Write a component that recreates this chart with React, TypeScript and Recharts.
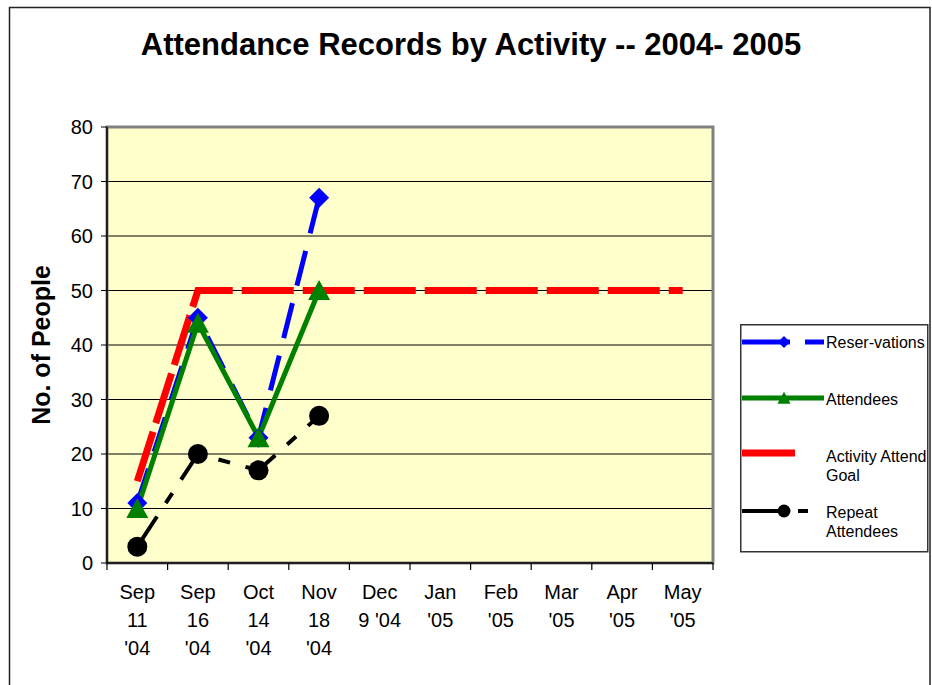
import {
  LineChart,
  Line,
  XAxis,
  YAxis,
  CartesianGrid,
  ReferenceArea,
  Legend,
} from "recharts";

// values
const categories = [
  "Sep\n11\n'04",
  "Sep\n16\n'04",
  "Oct\n14\n'04",
  "Nov\n18\n'04",
  "Dec\n9 '04",
  "Jan\n'05",
  "Feb\n'05",
  "Mar\n'05",
  "Apr\n'05",
  "May\n'05",
];
const reservations = [11, 45, 23, 67, null, null, null, null, null, null];
const attendees = [10, 44, 23, 50, null, null, null, null, null, null];
const attendGoal = [15, 50, 50, 50, 50, 50, 50, 50, 50, 50];
const repeatAttendees = [3, 20, 17, 27, null, null, null, null, null, null];

const yTicks = [0, 10, 20, 30, 40, 50, 60, 70, 80];
const labelTicks = [0, 1, 2, 3, 4, 5, 6, 7, 8, 9];
const boundaryTicks = [-0.5, 0.5, 1.5, 2.5, 3.5, 4.5, 5.5, 6.5, 7.5, 8.5, 9.5];

const data = categories.map((label, i) => ({
  idx: i,
  label,
  reservations: reservations[i],
  attendees: attendees[i],
  goal: attendGoal[i],
  repeat: repeatAttendees[i],
}));

type Marker = "diamond" | "triangle" | "circle" | "none";

const SERIES: {
  key: string;
  name: string[];
  color: string;
  width: number;
  dash?: string;
  legendDash?: string;
  marker: Marker;
}[] = [
  { key: "reservations", name: ["Reser-vations"], color: "#0000FF", width: 5, dash: "36 18", legendDash: "48 15", marker: "diamond" },
  { key: "attendees", name: ["Attendees"], color: "#008000", width: 5, marker: "triangle" },
  { key: "goal", name: ["Activity Attend", "Goal"], color: "#FF0000", width: 7, dash: "52 9", marker: "none" },
  { key: "repeat", name: ["Repeat", "Attendees"], color: "#000000", width: 4, dash: "36 16 12 16", legendDash: "46 10 10 10", marker: "circle" },
];

function markerShape(kind: Marker, cx: number, cy: number, color: string, s: number) {
  if (kind === "diamond")
    return <polygon points={`${cx},${cy - s} ${cx + s},${cy} ${cx},${cy + s} ${cx - s},${cy}`} fill={color} />;
  if (kind === "triangle")
    return (
      <polygon
        points={`${cx},${cy - s * 1.05} ${cx + s * 1.1},${cy + s * 0.95} ${cx - s * 1.1},${cy + s * 0.95}`}
        fill={color}
      />
    );
  if (kind === "circle") return <circle cx={cx} cy={cy} r={s} fill={color} />;
  return null;
}

const makeDot = (kind: Marker, color: string) => (props: any) => {
  const { cx, cy, index } = props;
  if (cx == null || cy == null || props.value == null) return <g key={`e-${index}`} />;
  return <g key={`m-${index}`}>{markerShape(kind, cx, cy, color, 10)}</g>;
};

const XTick = (props: any) => {
  const { x, y, payload } = props;
  const lines = (categories[payload.value] ?? "").split("\n");
  return (
    <text x={x} y={y} textAnchor="middle" fontSize={20} fill="#000">
      {lines.map((t, i) => (
        <tspan key={i} x={x} dy={i === 0 ? 35 : 28}>
          {t}
        </tspan>
      ))}
    </text>
  );
};

const EmptyTick = () => <g />;

const YLabel = (props: any) => {
  const vb = props.viewBox;
  const x = vb.x - 6;
  const y = vb.y + vb.height / 2;
  return (
    <text
      x={x}
      y={y}
      transform={`rotate(-90 ${x} ${y})`}
      textAnchor="middle"
      dominantBaseline="central"
      fontSize={25}
      fontWeight="bold"
      fill="#000"
    >
      No. of People
    </text>
  );
};

// legend rows: y of the sample line, x end of the sample, text baselines
const legendRows = [
  { y: 18, end: 84, text: [24] },
  { y: 74, end: 84, text: [81] },
  { y: 129, end: 55, text: [138, 157] },
  { y: 187, end: 69, text: [194, 213] },
];

function LegendBox() {
  return (
    <svg width={190} height={230} style={{ display: "block" }}>
      <rect x={0.75} y={0.75} width={187} height={227} fill="#fff" stroke="#333" strokeWidth={1.5} />
      {SERIES.map((s, i) => {
        const r = legendRows[i];
        return (
          <g key={s.key}>
            <line
              x1={2}
              x2={r.end}
              y1={r.y}
              y2={r.y}
              stroke={s.color}
              strokeWidth={s.width}
              strokeDasharray={s.legendDash}
            />
            {markerShape(s.marker, 44, r.y, s.color, s.marker === "circle" ? 6.5 : 6)}
            <text x={86} fontSize={16} fill="#000">
              {s.name.map((t, j) => (
                <tspan key={j} x={86} y={r.text[j]}>
                  {t}
                </tspan>
              ))}
            </text>
          </g>
        );
      })}
    </svg>
  );
}

export default function App() {
  return (
    <div
      style={{
        position: "fixed",
        left: 0,
        top: 0,
        width: 932,
        height: 685,
        overflow: "hidden",
        background: "#fff",
        fontFamily: '"Liberation Sans", Arial, sans-serif',
      }}
    >
      <LineChart width={932} height={685} data={data} margin={{ top: 127, right: 219, bottom: 120, left: 47 }}>
        <XAxis
          xAxisId="a_marks"
          type="number"
          dataKey="idx"
          domain={[-0.5, 9.5]}
          ticks={boundaryTicks}
          interval={0}
          allowDataOverflow
          tick={<EmptyTick />}
          tickSize={7}
          tickLine={{ stroke: "#000", strokeWidth: 1.2 }}
          axisLine={{ stroke: "#000", strokeWidth: 1.5 }}
          height={1}
        />
        <XAxis
          xAxisId="b_labels"
          type="number"
          dataKey="idx"
          domain={[-0.5, 9.5]}
          ticks={labelTicks}
          interval={0}
          allowDataOverflow
          tick={<XTick />}
          tickSize={0}
          tickMargin={0}
          tickLine={false}
          axisLine={false}
          height={1}
        />
        <YAxis
          width={60}
          domain={[0, 80]}
          ticks={yTicks}
          interval={0}
          tick={{ fontSize: 20, fill: "#000" }}
          tickSize={6}
          tickMargin={8}
          tickLine={{ stroke: "#000" }}
          axisLine={{ stroke: "#000", strokeWidth: 1.5 }}
          label={<YLabel />}
        />
        <CartesianGrid xAxisId="a_marks" vertical={false} fill="#FFFFCC" stroke="#000" strokeOpacity={1} />
        <ReferenceArea
          xAxisId="a_marks"
          x1={-0.5}
          x2={9.5}
          y1={0}
          y2={80}
          fill="none"
          stroke="#808080"
          strokeWidth={3}
        />
        {SERIES.map((s, i) => (
          <Line
            key={s.key}
            xAxisId={i % 2 === 0 ? "b_labels" : "a_marks"}
            type="linear"
            dataKey={s.key}
            name={s.name.join(" ")}
            stroke={s.color}
            strokeWidth={s.width}
            strokeDasharray={s.dash}
            dot={s.marker === "none" ? false : makeDot(s.marker, s.color)}
            activeDot={false}
            isAnimationActive={false}
          />
        ))}
        <Legend
          layout="vertical"
          align="center"
          verticalAlign="middle"
          content={() => <LegendBox />}
          wrapperStyle={{ left: 740, top: 324, width: 190, height: 230 }}
        />
      </LineChart>
      <svg
        width={932}
        height={685}
        style={{ position: "absolute", left: 0, top: 0, pointerEvents: "none" }}
      >
        <rect x={9.5} y={7.5} width={920.5} height={700} fill="none" stroke="#222" strokeWidth={1.5} />
        <text x={471} y={55} textAnchor="middle" fontSize={31} fontWeight="bold" fill="#000">
          Attendance Records by Activity -- 2004- 2005
        </text>
      </svg>
    </div>
  );
}
